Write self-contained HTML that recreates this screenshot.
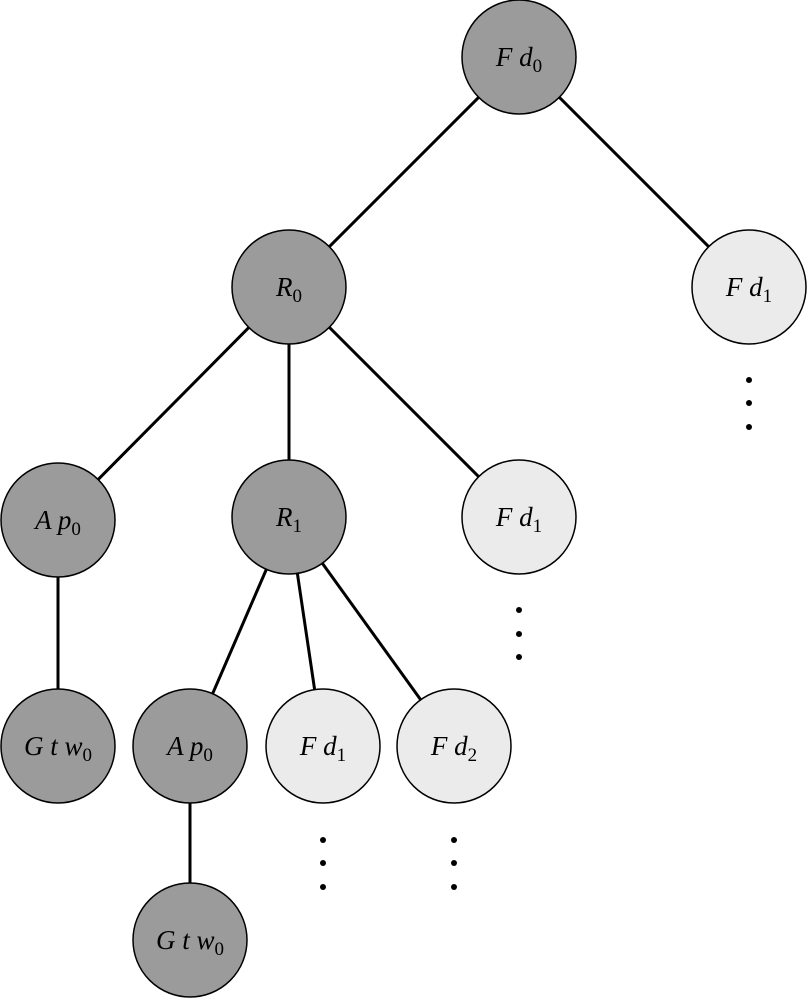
<!DOCTYPE html>
<html><head><meta charset="utf-8"><style>html,body{margin:0;padding:0;background:#fff}svg{display:block}</style></head>
<body>
<svg width="808" height="1000" viewBox="0 0 808 1000" xmlns="http://www.w3.org/2000/svg">
<g stroke="#000" stroke-width="3">
<line x1="519" y1="57" x2="289" y2="287"/>
<line x1="519" y1="57" x2="749" y2="287"/>
<line x1="289" y1="287" x2="58" y2="520"/>
<line x1="289" y1="287" x2="289" y2="517"/>
<line x1="289" y1="287" x2="519" y2="517"/>
<line x1="58" y1="520" x2="58" y2="746"/>
<line x1="289" y1="517" x2="190" y2="746"/>
<line x1="289" y1="517" x2="323" y2="746"/>
<line x1="289" y1="517" x2="454" y2="746"/>
<line x1="190" y1="746" x2="190" y2="940"/>
</g>
<g stroke="#000" stroke-width="1.5">
<circle cx="519" cy="57" r="57" fill="#9b9b9b"/>
<circle cx="289" cy="287" r="57" fill="#9b9b9b"/>
<circle cx="749" cy="287" r="57" fill="#ebebeb"/>
<circle cx="58" cy="520" r="57" fill="#9b9b9b"/>
<circle cx="289" cy="517" r="57" fill="#9b9b9b"/>
<circle cx="519" cy="517" r="57" fill="#ebebeb"/>
<circle cx="58" cy="746" r="57" fill="#9b9b9b"/>
<circle cx="190" cy="746" r="57" fill="#9b9b9b"/>
<circle cx="323" cy="746" r="57" fill="#ebebeb"/>
<circle cx="454" cy="746" r="57" fill="#ebebeb"/>
<circle cx="190" cy="940" r="57" fill="#9b9b9b"/>
</g>
<g fill="#000">
<circle cx="749" cy="380" r="3"/><circle cx="749" cy="403" r="3"/><circle cx="749" cy="427" r="3"/>
<circle cx="519" cy="610" r="3"/><circle cx="519" cy="634" r="3"/><circle cx="519" cy="657" r="3"/>
<circle cx="323" cy="840" r="3"/><circle cx="323" cy="863" r="3"/><circle cx="323" cy="887" r="3"/>
<circle cx="454" cy="840" r="3"/><circle cx="454" cy="863" r="3"/><circle cx="454" cy="887" r="3"/>
</g>
<g font-family="Liberation Serif, serif" font-size="27" text-anchor="middle" fill="#000">
<text x="519" y="66"><tspan font-style="italic">F d</tspan><tspan font-size="19" dy="6">0</tspan></text>
<text x="289" y="296"><tspan font-style="italic">R</tspan><tspan font-size="19" dy="6">0</tspan></text>
<text x="749" y="296"><tspan font-style="italic">F d</tspan><tspan font-size="19" dy="6">1</tspan></text>
<text x="58" y="529"><tspan font-style="italic">A p</tspan><tspan font-size="19" dy="6">0</tspan></text>
<text x="289" y="526"><tspan font-style="italic">R</tspan><tspan font-size="19" dy="6">1</tspan></text>
<text x="519" y="526"><tspan font-style="italic">F d</tspan><tspan font-size="19" dy="6">1</tspan></text>
<text x="58" y="755"><tspan font-style="italic">G t w</tspan><tspan font-size="19" dy="6">0</tspan></text>
<text x="190" y="755"><tspan font-style="italic">A p</tspan><tspan font-size="19" dy="6">0</tspan></text>
<text x="323" y="755"><tspan font-style="italic">F d</tspan><tspan font-size="19" dy="6">1</tspan></text>
<text x="454" y="755"><tspan font-style="italic">F d</tspan><tspan font-size="19" dy="6">2</tspan></text>
<text x="190" y="949"><tspan font-style="italic">G t w</tspan><tspan font-size="19" dy="6">0</tspan></text>
</g>
</svg>
</body></html>
